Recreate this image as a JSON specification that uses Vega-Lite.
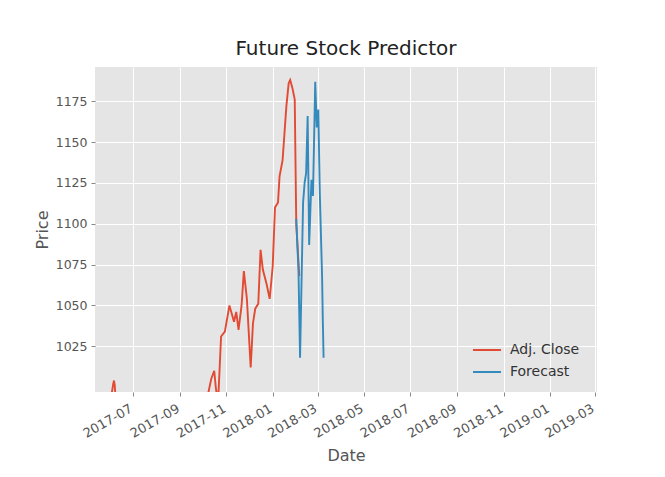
{
  "$schema": "https://vega.github.io/schema/vega-lite/v6.json",
  "width": 502,
  "height": 325,
  "autosize": "none",
  "padding": {"left": 95, "top": 67, "right": 68, "bottom": 85},
  "background": "white",
  "title": {"text": "Future Stock Predictor", "fontSize": 20, "font": "DejaVu Sans", "fontWeight": "normal", "color": "#222222", "offset": 8},
  "config": {
    "view": {"fill": "#E5E5E5", "stroke": null},
    "font": "DejaVu Sans",
    "axis": {"gridColor": "white", "gridWidth": 1, "gridOpacity": 1, "domain": false, "tickColor": "#888888", "tickSize": 4, "labelColor": "#555555", "labelFontSize": 12.5, "titleColor": "#555555", "titleFontSize": 16, "titleFontWeight": "normal", "labelFont": "DejaVu Sans", "titleFont": "DejaVu Sans"}
  },
  "data": {"values": [
    {"date": "2017-05-12", "price": 955, "series": "Adj. Close"},
    {"date": "2017-05-25", "price": 975, "series": "Adj. Close"},
    {"date": "2017-06-01", "price": 990, "series": "Adj. Close"},
    {"date": "2017-06-05", "price": 1002, "series": "Adj. Close"},
    {"date": "2017-06-06", "price": 1004, "series": "Adj. Close"},
    {"date": "2017-06-07", "price": 1001, "series": "Adj. Close"},
    {"date": "2017-06-08", "price": 994, "series": "Adj. Close"},
    {"date": "2017-06-09", "price": 970, "series": "Adj. Close"},
    {"date": "2017-06-20", "price": 960, "series": "Adj. Close"},
    {"date": "2017-07-05", "price": 935, "series": "Adj. Close"},
    {"date": "2017-07-25", "price": 975, "series": "Adj. Close"},
    {"date": "2017-08-15", "price": 940, "series": "Adj. Close"},
    {"date": "2017-09-05", "price": 935, "series": "Adj. Close"},
    {"date": "2017-09-25", "price": 955, "series": "Adj. Close"},
    {"date": "2017-10-02", "price": 975, "series": "Adj. Close"},
    {"date": "2017-10-08", "price": 996, "series": "Adj. Close"},
    {"date": "2017-10-12", "price": 1005, "series": "Adj. Close"},
    {"date": "2017-10-16", "price": 1010, "series": "Adj. Close"},
    {"date": "2017-10-18", "price": 1000, "series": "Adj. Close"},
    {"date": "2017-10-21", "price": 990, "series": "Adj. Close"},
    {"date": "2017-10-25", "price": 1031, "series": "Adj. Close"},
    {"date": "2017-10-30", "price": 1034, "series": "Adj. Close"},
    {"date": "2017-11-05", "price": 1050, "series": "Adj. Close"},
    {"date": "2017-11-08", "price": 1045, "series": "Adj. Close"},
    {"date": "2017-11-11", "price": 1040, "series": "Adj. Close"},
    {"date": "2017-11-14", "price": 1046, "series": "Adj. Close"},
    {"date": "2017-11-17", "price": 1035, "series": "Adj. Close"},
    {"date": "2017-11-21", "price": 1050, "series": "Adj. Close"},
    {"date": "2017-11-24", "price": 1071, "series": "Adj. Close"},
    {"date": "2017-11-28", "price": 1054, "series": "Adj. Close"},
    {"date": "2017-12-03", "price": 1012, "series": "Adj. Close"},
    {"date": "2017-12-06", "price": 1039, "series": "Adj. Close"},
    {"date": "2017-12-09", "price": 1048, "series": "Adj. Close"},
    {"date": "2017-12-13", "price": 1051, "series": "Adj. Close"},
    {"date": "2017-12-16", "price": 1084, "series": "Adj. Close"},
    {"date": "2017-12-19", "price": 1072, "series": "Adj. Close"},
    {"date": "2017-12-24", "price": 1063, "series": "Adj. Close"},
    {"date": "2017-12-28", "price": 1054, "series": "Adj. Close"},
    {"date": "2018-01-01", "price": 1074, "series": "Adj. Close"},
    {"date": "2018-01-04", "price": 1110, "series": "Adj. Close"},
    {"date": "2018-01-08", "price": 1113, "series": "Adj. Close"},
    {"date": "2018-01-10", "price": 1129, "series": "Adj. Close"},
    {"date": "2018-01-14", "price": 1139, "series": "Adj. Close"},
    {"date": "2018-01-19", "price": 1172, "series": "Adj. Close"},
    {"date": "2018-01-22", "price": 1186, "series": "Adj. Close"},
    {"date": "2018-01-24", "price": 1188, "series": "Adj. Close"},
    {"date": "2018-01-27", "price": 1183, "series": "Adj. Close"},
    {"date": "2018-01-30", "price": 1176, "series": "Adj. Close"},
    {"date": "2018-02-01", "price": 1100, "series": "Adj. Close"},
    {"date": "2018-02-05", "price": 1068, "series": "Adj. Close"},
    {"date": "2018-02-01", "price": 1103, "series": "Forecast"},
    {"date": "2018-02-04", "price": 1070, "series": "Forecast"},
    {"date": "2018-02-06", "price": 1018, "series": "Forecast"},
    {"date": "2018-02-10", "price": 1113, "series": "Forecast"},
    {"date": "2018-02-12", "price": 1125, "series": "Forecast"},
    {"date": "2018-02-14", "price": 1131, "series": "Forecast"},
    {"date": "2018-02-16", "price": 1166, "series": "Forecast"},
    {"date": "2018-02-18", "price": 1087, "series": "Forecast"},
    {"date": "2018-02-21", "price": 1127, "series": "Forecast"},
    {"date": "2018-02-23", "price": 1117, "series": "Forecast"},
    {"date": "2018-02-26", "price": 1187, "series": "Forecast"},
    {"date": "2018-02-28", "price": 1159, "series": "Forecast"},
    {"date": "2018-03-02", "price": 1170, "series": "Forecast"},
    {"date": "2018-03-04", "price": 1119, "series": "Forecast"},
    {"date": "2018-03-07", "price": 1068, "series": "Forecast"},
    {"date": "2018-03-08", "price": 1040, "series": "Forecast"},
    {"date": "2018-03-09", "price": 1018, "series": "Forecast"}
  ]},
  "mark": {"type": "line", "strokeWidth": 1.9, "clip": true},
  "encoding": {
    "x": {
      "field": "date", "type": "temporal", "title": "Date",
      "scale": {"type": "utc", "domain": [{"year": 2017, "month": 5, "date": 12, "utc": true}, {"year": 2019, "month": 3, "date": 4, "utc": true}]},
      "axis": {
        "values": [
          {"year": 2017, "month": 7, "date": 1, "utc": true},
          {"year": 2017, "month": 9, "date": 1, "utc": true},
          {"year": 2017, "month": 11, "date": 1, "utc": true},
          {"year": 2018, "month": 1, "date": 1, "utc": true},
          {"year": 2018, "month": 3, "date": 1, "utc": true},
          {"year": 2018, "month": 5, "date": 1, "utc": true},
          {"year": 2018, "month": 7, "date": 1, "utc": true},
          {"year": 2018, "month": 9, "date": 1, "utc": true},
          {"year": 2018, "month": 11, "date": 1, "utc": true},
          {"year": 2019, "month": 1, "date": 1, "utc": true},
          {"year": 2019, "month": 3, "date": 1, "utc": true}
        ],
        "format": "%Y-%m", "labelAngle": -30, "labelAlign": "right", "labelBaseline": "top", "labelPadding": 6, "labelOffset": -5, "labelFontSize": 13, "titlePadding": 7, "labelFlush": false, "labelOverlap": false
      }
    },
    "y": {
      "field": "price", "type": "quantitative", "title": "Price",
      "scale": {"domain": [997, 1196], "nice": false, "zero": false},
      "axis": {"values": [1025, 1050, 1075, 1100, 1125, 1150, 1175], "format": "d", "labelPadding": 4, "titlePadding": 5}
    },
    "color": {
      "field": "series", "type": "nominal",
      "scale": {"domain": ["Adj. Close", "Forecast"], "range": ["#E24A33", "#348ABD"]},
      "legend": {"title": null, "orient": "none", "legendX": 377, "legendY": 268, "symbolType": "stroke", "symbolSize": 784, "symbolStrokeWidth": 2, "labelFontSize": 14, "labelOffset": 8, "labelColor": "#333333", "rowPadding": -6, "labelFont": "DejaVu Sans"}
    }
  }
}
